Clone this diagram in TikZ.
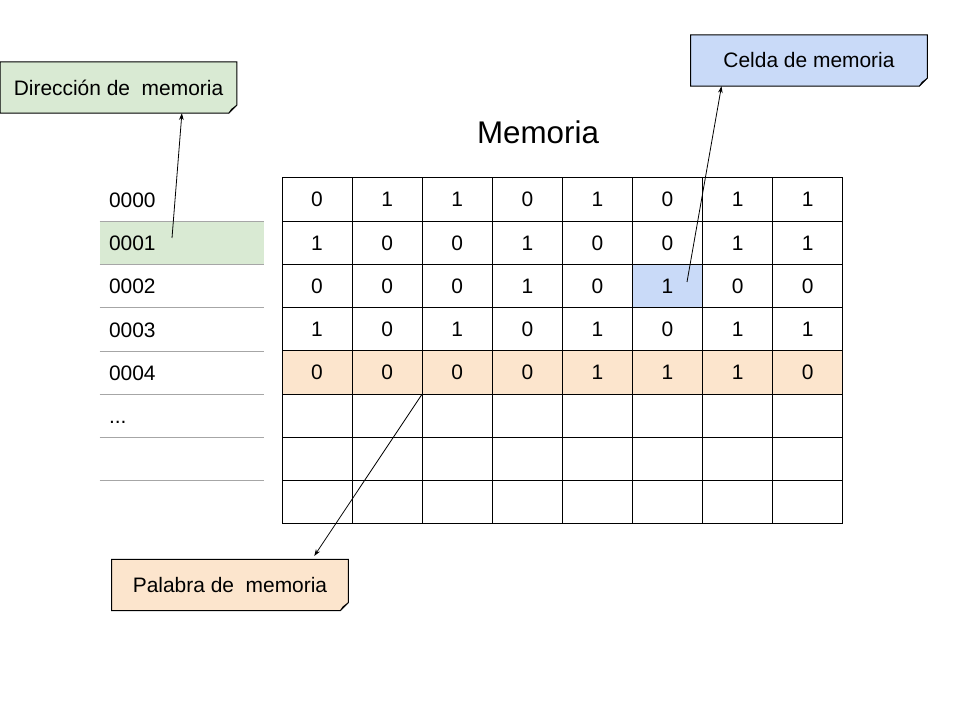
\documentclass[tikz,border=0pt]{standalone}
\usepackage{fontspec}
\setmainfont{Liberation Sans}
\usetikzlibrary{arrows.meta,calc}

\definecolor{verde}{HTML}{D9EAD3}
\definecolor{azul}{HTML}{C9DAF8}
\definecolor{naranja}{HTML}{FCE5CD}
\definecolor{linea}{HTML}{A6A6A6}

\pgfdeclarelayer{fondo}
\pgfsetlayers{fondo,main}

\tikzset{
  celda/.style = {draw, line width = 0.75pt, minimum width = 52.575pt,
                  minimum height = 32.4375pt, inner sep = 0pt, font = \fontsize{15.7}{18}\selectfont},
  direccion/.style = {minimum height = 32.4pt, inner xsep = 6.75pt, inner ysep = 0pt,
                  text width = 109.5pt, text height = 11.5pt, text depth = 0pt, align = left,
                  font = \fontsize{15.7}{18}\selectfont},
  nota/.style = {minimum width = 177pt, minimum height = 38.2pt, inner sep = 0pt,
                  font = \fontsize{15.7}{18}\selectfont},
  flecha/.style = {-{Stealth[length = 5pt, width = 3.5pt]}, line width = 0.6pt}
}

\newcommand\puntos{...}

% fondo de una nota con la esquina doblada
\newcommand\fondonota[2]{%
  \filldraw[fill = #2, line width = 0.75pt] (#1.north west) -- (#1.north east)
    -- ([yshift = 6pt]#1.south east) -- ([xshift = -6pt]#1.south east)
    -- (#1.south west) -- cycle;
  \filldraw[fill = #2!55!gray, line width = 0.5pt] ([yshift = 6pt]#1.south east)
    -- ([xshift = -6pt]#1.south east) -- ([xshift = -4pt, yshift = 3pt]#1.south east) -- cycle;}

\begin{document}
\begin{tikzpicture}[x = 0.75pt, y = -0.75pt]
  \useasboundingbox (0,0) rectangle (960,720);

  \node[font = \fontsize{23.5}{26}\selectfont] (titulo) at (538,132) {Memoria};

  % direcciones
  \foreach \d/\f [count = \i from 0] in {0000/none, 0001/verde, 0002/none, 0003/none,
                                         0004/none, \puntos/none, /none}
    \node[direccion, fill = \f] (a\i) at (182, 199.6 + 43.25*\i) {\d};
  \foreach \i in {0,...,6}
    \draw[linea, line width = 0.75pt] (a\i.south west) -- (a\i.south east);

  % celdas
  \foreach \b [count = \c from 0] in {0,1,1,0,1,0,1,1}
    \node[celda] (c-0-\c) at (317.05 + 70.1*\c, 199.6) {\b};
  \foreach \b [count = \c from 0] in {1,0,0,1,0,0,1,1}
    \node[celda] (c-1-\c) at (317.05 + 70.1*\c, 242.85) {\b};
  \foreach \b/\f [count = \c from 0] in {0/none,0/none,0/none,1/none,0/none,1/azul,0/none,0/none}
    \node[celda, fill = \f] (c-2-\c) at (317.05 + 70.1*\c, 286.1) {\b};
  \foreach \b [count = \c from 0] in {1,0,1,0,1,0,1,1}
    \node[celda] (c-3-\c) at (317.05 + 70.1*\c, 329.35) {\b};
  \foreach \b [count = \c from 0] in {0,0,0,0,1,1,1,0}
    \node[celda, fill = naranja] (c-4-\c) at (317.05 + 70.1*\c, 372.6) {\b};
  \foreach \r in {5,6,7}
    \foreach \c in {0,...,7}
      \node[celda] (c-\r-\c) at (317.05 + 70.1*\c, 199.6 + 43.25*\r) {};

  % notas
  \node[nota] (dir)  at (118.5, 87.5) {Dirección de~ memoria};
  \node[nota] (cel)  at (809, 60.5)   {Celda de memoria};
  \node[nota] (pal)  at (230, 585)    {Palabra de~ memoria};
  \begin{pgfonlayer}{fondo}
    \fondonota{dir}{verde}
    \fondonota{cel}{azul}
    \fondonota{pal}{naranja}
  \end{pgfonlayer}

  \coordinate (pd) at (172,238);
  \coordinate (pc) at (687,282);
  \draw[flecha] (pd) -- ($(dir.south west)!0.768!(dir.south east)$);
  \draw[flecha] (pc) -- ($(cel.south west)!0.13!(cel.south east)$);
  \draw[flecha, shorten > = 3pt] (c-4-2.south west) -- ($(pal.north west)!0.847!(pal.north east)$);
\end{tikzpicture}
\end{document}
